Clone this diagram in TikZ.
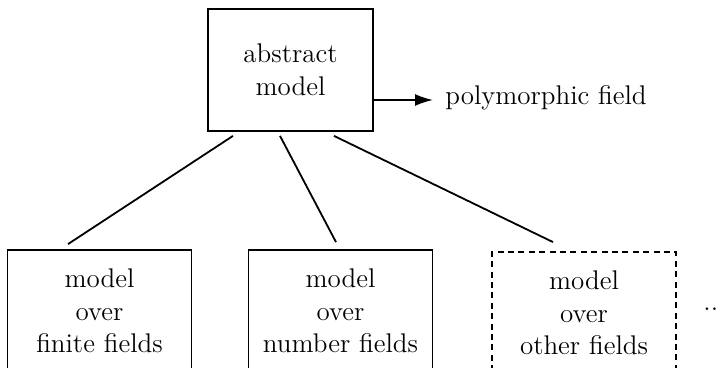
\documentclass[tikz,border=0pt]{standalone}
\usetikzlibrary{arrows.meta,calc}
\begin{document}
\begin{tikzpicture}[x=0.5pt,y=-0.5pt,
  box/.style={draw, line width=0.9pt, align=center, inner sep=0pt,
    font=\fontsize{13.5}{16.3}\selectfont},
  topbox/.style={box, minimum width=82.5pt, minimum height=61pt},
  lowbox/.style={box, minimum width=92pt, minimum height=61pt},
  dashbox/.style={lowbox, dash pattern=on 3pt off 2.2pt},
  link/.style={line width=0.9pt},
  txt/.style={inner sep=0pt, font=\fontsize{13.5}{16.3}\selectfont}]
\useasboundingbox (0,0) rectangle (718,368);
\clip (0,0) rectangle (718,368);
\node[topbox] (top) at (290.5,70) {abstract\\model};
\node[lowbox] (b1) at (99.5,311) {model\\over\\finite fields};
\node[lowbox] (b2) at (340.5,311) {model\\over\\number fields};
\node[dashbox] (b3) at (584,313) {model\\over\\other fields};
\node[txt, anchor=base west] (poly) at (445,105) {polymorphic field};
\node[txt, anchor=base west] (dots) at (703,310.5) {...};
\draw[link, -{Latex[length=9pt,width=6pt]}] ($(top.east)+(0,30)$) -- ($(poly.west |- 0,100)+(-12,0)$);
\draw[link] ($(top.south)+(-57.5,4)$) -- ($(b1.north)+(-31.5,-5)$);
\draw[link] ($(top.south)+(-10.5,4)$) -- ($(b2.north)+(-4.5,-7)$);
\draw[link] ($(top.south)+(43.5,4)$) -- ($(b3.north)+(-31,-9)$);
\end{tikzpicture}
\end{document}
